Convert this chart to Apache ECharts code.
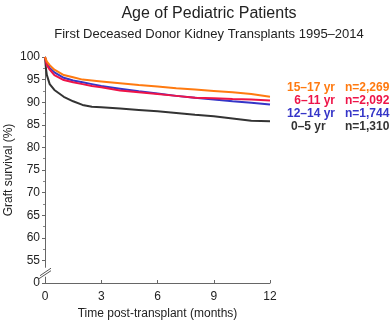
<!DOCTYPE html>
<html>
<head>
<meta charset="utf-8">
<script src="https://cdn.jsdelivr.net/npm/echarts@6/dist/echarts.min.js"></script>
<style>
html, body { margin: 0; padding: 0; background: #fff; }
#main { width: 391px; height: 321px; }
</style>
</head>
<body>
<div id="main"></div>
<script>
// time points (months)
var months = [0, 0.05, 0.1, 0.25, 0.5, 1, 1.5, 2, 2.5, 3, 4, 5, 6, 7, 8, 9, 10, 11, 12];
// graft survival (%) per age group
var age15_17 = [100, 99.5, 99.0, 98.2, 97.2, 96.0, 95.5, 95.0, 94.8, 94.6, 94.2, 93.8, 93.5, 93.1, 92.8, 92.5, 92.2, 91.8, 91.2];
var age6_11 = [100, 99.0, 98.2, 97.2, 96.0, 94.9, 94.4, 94.0, 93.6, 93.3, 92.6, 92.2, 91.8, 91.4, 91.0, 90.9, 90.7, 90.6, 90.4];
var age12_14 = [100, 99.3, 98.6, 97.6, 96.6, 95.4, 94.8, 94.4, 94.0, 93.6, 93.0, 92.4, 91.9, 91.4, 91.0, 90.6, 90.2, 89.9, 89.5];
var age0_5 = [100, 97.5, 96.0, 94.0, 92.7, 91.2, 90.2, 89.4, 89.0, 88.9, 88.6, 88.3, 88.0, 87.6, 87.2, 86.9, 86.4, 85.9, 85.8];

var groupNames = ['15–17 yr', '6–11 yr', '12–14 yr', '0–5 yr'];
var groupN = ['n=2,269', 'n=2,092', 'n=1,744', 'n=1,310'];
var groupData = [age15_17, age6_11, age12_14, age0_5];
var colors = ['#FF7A10', '#EE1448', '#3535C8', '#333333'];

var yTicks = [50, 55, 60, 65, 70, 75, 80, 85, 90, 95, 100]; // 50 is shown as 0 (broken axis)

var FONT = 'Liberation Sans, Arial, sans-serif';

function pairs(vals) {
	var out = [];
	for (var i = 0; i < months.length; i++) {
		out.push([months[i], vals[i]]);
	}
	return out;
}

var myChart = echarts.init(document.getElementById('main'));

var series = [];
// draw black first so coloured curves sit on top
for (var i = groupData.length - 1; i >= 0; i--) {
	series.push({
		name: groupNames[i],
		type: 'line',
		data: pairs(groupData[i]),
		symbol: 'none',
		smooth: false,
		lineStyle: { color: colors[i], width: 2 },
		itemStyle: { color: colors[i] },
		z: 3 + (groupData.length - i)
	});
}

var option = {
	animation: false,
	textStyle: { fontFamily: FONT },
	title: [
		{
			text: 'Age of Pediatric Patients',
			left: 204, top: 1, textAlign: 'center',
			textStyle: { fontSize: 16, fontWeight: 'normal', color: '#222', fontFamily: FONT }
		},
		{
			text: 'First Deceased Donor Kidney Transplants 1995–2014',
			left: 204, top: 23, textAlign: 'center',
			textStyle: { fontSize: 13, fontWeight: 'normal', color: '#222', fontFamily: FONT }
		}
	],
	grid: { left: 45, right: 121, top: 57, bottom: 38, containLabel: false, outerBoundsMode: 'none' },
	xAxis: {
		type: 'value',
		min: 0, max: 12, interval: 3,
		name: 'Time post-transplant (months)',
		nameLocation: 'middle',
		nameGap: 24,
		nameTextStyle: { fontSize: 12, color: '#222' },
		axisLine: { lineStyle: { color: '#666', width: 1 } },
		axisTick: { inside: true, length: 3, lineStyle: { color: '#666' } },
		axisLabel: { fontSize: 12, color: '#222', margin: 8 },
		splitLine: { show: false }
	},
	yAxis: {
		type: 'value',
		min: 50, max: 100, interval: 5,
		name: 'Graft survival (%)',
		nameLocation: 'middle',
		nameGap: 30,
		nameMoveOverlap: false,
		nameTextStyle: { fontSize: 12, color: '#222' },
		axisLine: { show: true, lineStyle: { color: '#666', width: 1 } },
		axisTick: { show: true, length: 3, lineStyle: { color: '#666' } },
		minorTick: { show: true, splitNumber: 2, length: 2, lineStyle: { color: '#888' } },
		axisLabel: {
			fontSize: 12, color: '#222', margin: 5,
			formatter: function (v) { return v === yTicks[0] ? '0' : String(v); }
		},
		splitLine: { show: false }
	},
	series: series
};
myChart.setOption(option);

// legend text at right and the axis break mark
var g = [];
for (var k = 0; k < groupNames.length; k++) {
	var yy = 82 + k * 13;
	g.push({
		type: 'text',
		left: k === 3 ? 291 : null,
		right: k === 3 ? null : 56,
		top: yy,
		style: { text: groupNames[k], fill: colors[k], font: 'bold 12px ' + FONT }
	});
	g.push({
		type: 'text',
		left: 345,
		top: yy,
		style: { text: groupN[k], fill: colors[k], font: 'bold 12px ' + FONT }
	});
}
var mid = myChart.convertToPixel({ gridIndex: 0 }, [0, 52.5]);
g.push({
	type: 'rect',
	shape: { x: mid[0] - 4, y: mid[1] - 4, width: 7, height: 9 },
	style: { fill: '#fff' },
	z: 100
});
g.push({
	type: 'line',
	shape: { x1: mid[0] - 6, y1: mid[1] + 7, x2: mid[0] + 6, y2: mid[1] - 1 },
	style: { stroke: '#555', lineWidth: 1 },
	z: 101
});
g.push({
	type: 'line',
	shape: { x1: mid[0] - 5, y1: mid[1] + 4, x2: mid[0] + 6, y2: mid[1] - 3.5 },
	style: { stroke: '#555', lineWidth: 1 },
	z: 101
});
myChart.setOption({ graphic: g });
</script>
</body>
</html>
